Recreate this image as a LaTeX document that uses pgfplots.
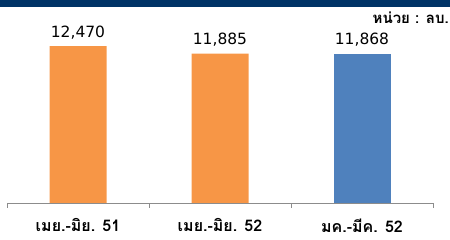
\documentclass[border=0pt]{standalone}
\usepackage{pgfplots}
\pgfplotsset{compat=1.18}
\usepackage{fontspec}
\newfontfamily\thaifont[Script=Thai]{Loma}
\newfontfamily\numfont{DejaVu Sans}
\definecolor{band}{HTML}{003366}
\definecolor{barorange}{HTML}{F79646}
\definecolor{barblue}{HTML}{4F81BD}
\definecolor{axgray}{HTML}{8C8C8C}
\begin{document}
\begin{tikzpicture}
\path[use as bounding box] (0,0) rectangle (450pt,240pt);
\fill[band] (0,233pt) rectangle (450pt,240pt);
\node[anchor=north east, inner sep=0pt, font=\thaifont\bfseries\fontsize{15}{17}\selectfont] at (449pt,228pt) {หน่วย : ลบ.};
\begin{axis}[
  at={(7pt,37pt)}, anchor=south west,
  scale only axis, width=426pt, height=176pt,
  xmin=0, xmax=3, ymin=0, ymax=14000,
  axis x line=bottom, axis y line=none,
  axis line style={-, axgray, line width=0.8pt},
  xtick={0.5,1.5,2.5},
  xticklabels={เมย.-มิย. 51, เมย.-มิย. 52, มค.-มีค. 52},
  major tick length=0pt,
  extra x ticks={0,1,2,3}, extra x tick labels={},
  extra tick style={major tick length=5pt, tick align=outside, tick style={axgray, line width=0.8pt}},
  xticklabel style={font=\thaifont\bfseries\fontsize{16}{18}\selectfont, yshift=-12pt},
  ybar, bar width=57pt,
  /pgf/number format/assume math mode=true,
  nodes near coords={\pgfmathprintnumber[1000 sep={,}, fixed]{\pgfplotspointmeta}},
  nodes near coords style={font=\numfont\fontsize{15.5}{18}\selectfont, text=black, inner sep=0pt, anchor=south, yshift=7pt},
  clip=false,
]
\addplot[fill=barorange, draw=none, bar shift=0pt] coordinates {(0.5,12470) (1.5,11885)};
\addplot[fill=barblue, draw=none, bar shift=0pt] coordinates {(2.5,11868)};
\end{axis}
\end{tikzpicture}
\end{document}
